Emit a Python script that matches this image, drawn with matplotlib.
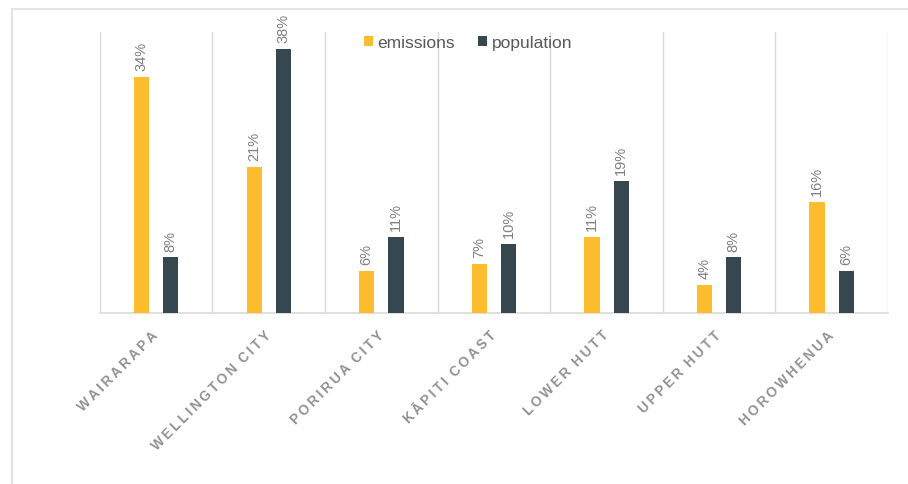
import matplotlib.pyplot as plt
import matplotlib.patches as patches
import numpy as np

plt.rcParams["font.family"] = ["Liberation Sans", "DejaVu Sans"]

regions = ["Wairarapa", "Wellington City", "Porirua City", "Kāpiti Coast",
           "Lower Hutt", "Upper Hutt", "Horowhenua"]
emissions = [34, 21, 6, 7, 11, 4, 16]
population = [8, 38, 11, 10, 19, 8, 6]

EMI_COLOR = "#FDBD2F"
POP_COLOR = "#36474F"
GRID = "#D9D9D9"
TEXT = "#7F7F7F"

fig = plt.figure(figsize=(9.08, 4.85), dpi=100)
ax = fig.add_axes([0.110, 0.3526, 0.868, 0.5794])

# outer chart frame (only left and top edges visible)
fig.patches.append(patches.Rectangle((12 / 908, -0.1), 1.1, (485 - 10) / 485 + 0.1,
                                     transform=fig.transFigure, fill=False,
                                     edgecolor="#E3E3E3", linewidth=1.5))

x = np.arange(len(regions))
w = 0.135
off = 0.13
b1 = ax.bar(x - off, emissions, w, color=EMI_COLOR, label="emissions", zorder=3)
b2 = ax.bar(x + off, population, w, color=POP_COLOR, label="population", zorder=3)

for bars, vals in ((b1, emissions), (b2, population)):
    for r, v in zip(bars, vals):
        ax.annotate(f"{v}%", (r.get_x() + r.get_width() / 2, v),
                    xytext=(0, 5), textcoords="offset points",
                    rotation=90, ha="center", va="bottom",
                    fontsize=10.5, color=TEXT)

ax.set_xlim(-0.5, len(regions) - 0.5)
ax.set_ylim(0, 40.5)
ax.set_yticks([])
for b in np.arange(-0.5, len(regions), 1.0):
    ax.axvline(b, color=GRID, linewidth=1, zorder=1)

for s in ("top", "left", "right"):
    ax.spines[s].set_visible(False)
ax.spines["bottom"].set_color(GRID)
ax.spines["bottom"].set_linewidth(1.2)

# letter-spaced category names
spaced = ["\u2009".join(r.upper()).replace("\u2009 \u2009", "  ") for r in regions]
ax.set_xticks(x)
ax.set_xticklabels(spaced, rotation=45, ha="right", va="center",
                   rotation_mode="anchor", fontsize=9.8, fontweight="bold",
                   color="#919191")
ax.tick_params(axis="x", length=0, pad=14)

ax.legend(loc="upper center", bbox_to_anchor=(0.467, 1.045), ncol=2, frameon=False,
          fontsize=12.5, handlelength=0.55, handleheight=0.55, handletextpad=0.25,
          columnspacing=1.3, labelcolor="#595959")

fig.savefig("out.png", dpi=100)
